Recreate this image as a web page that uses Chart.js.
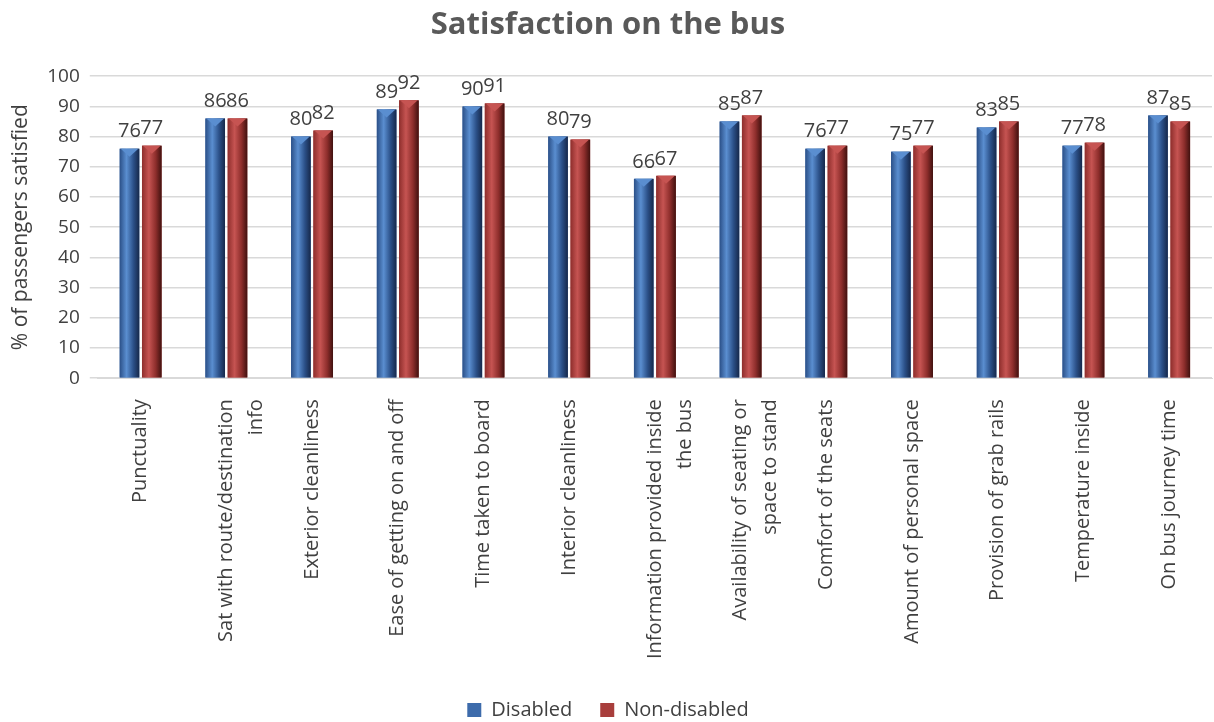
<!DOCTYPE html>
<html>
<head>
<meta charset="utf-8">
<script src="https://cdn.jsdelivr.net/npm/chart.js@4"></script>
<style>
  body { margin: 0; background: #fff; }
  #wrap { width: 1214px; height: 722px; }
</style>
</head>
<body>
<div id="wrap"><canvas id="bus"></canvas></div>
<script>
// categories + values
var categories = [
  "Punctuality",
  ["Sat with route/destination", "info"],
  "Exterior cleanliness",
  "Ease of getting on and off",
  "Time taken to board",
  "Interior cleanliness",
  ["Information provided inside", "the bus"],
  ["Availability of seating or", "space to stand"],
  "Comfort of the seats",
  "Amount of personal space",
  "Provision of grab rails",
  "Temperature inside",
  "On bus journey time"
];
var disabled = [76, 86, 80, 89, 90, 80, 66, 85, 76, 75, 83, 77, 87];
var nonDisabled = [77, 86, 82, 92, 91, 79, 67, 87, 77, 77, 85, 78, 85];
var yTicks = [0, 10, 20, 30, 40, 50, 60, 70, 80, 90, 100];

var shades = [
  ["#2b5088", "#5a8ed0", "#16284a"],
  ["#8e2e2c", "#c65452", "#40110f"]
];

// gradient shading + value labels on top of each bar
var barLook = {
  id: "barLook",
  afterDatasetsDraw: function(chart) {
    var ctx = chart.ctx;
    chart.data.datasets.forEach(function(ds, di) {
      var meta = chart.getDatasetMeta(di);
      var c = shades[di];
      meta.data.forEach(function(bar, i) {
        var l = bar.x - bar.width / 2, r = bar.x + bar.width / 2;
        var g = ctx.createLinearGradient(l, 0, r, 0);
        g.addColorStop(0, c[0]);
        g.addColorStop(0.35, c[1]);
        g.addColorStop(0.7, c[0]);
        g.addColorStop(1, c[2]);
        ctx.save();
        ctx.fillStyle = g;
        ctx.fillRect(l, bar.y, bar.width, bar.base - bar.y);
        // little bevel at the top
        ctx.fillStyle = c[1];
        ctx.beginPath();
        ctx.moveTo(l + 1, bar.y);
        ctx.lineTo(r - 1, bar.y);
        ctx.lineTo(bar.x, bar.y + 8);
        ctx.closePath();
        ctx.fill();
        ctx.fillStyle = "#404040";
        ctx.font = "20px 'Open Sans'";
        ctx.textAlign = "center";
        ctx.textBaseline = "bottom";
        ctx.fillText(ds.data[i], bar.x, bar.y - 7);
        ctx.restore();
      });
    });
  }
};

new Chart("bus", {
  type: "bar",
  data: {
    labels: categories,
    datasets: [{
      label: "Disabled",
      data: disabled,
      backgroundColor: "#3d6bab"
    }, {
      label: "Non-disabled",
      data: nonDisabled,
      backgroundColor: "#a83e3c"
    }]
  },
  options: {
    responsive: true,
    maintainAspectRatio: false,
    animation: false,
    layout: { padding: { left: 4, right: 2, top: 4, bottom: -8 } },
    datasets: {
      bar: { categoryPercentage: 0.52, barPercentage: 0.88 }
    },
    plugins: {
      title: {
        display: true,
        text: "Satisfaction on the bus",
        color: "#595959",
        font: { family: "'Open Sans'", size: 31, weight: "bold" },
        padding: { top: 3, bottom: 32 }
      },
      legend: {
        position: "bottom",
        labels: {
          color: "#404040",
          font: { family: "'Open Sans'", size: 20 },
          boxWidth: 14,
          boxHeight: 14,
          padding: 28
        }
      },
      tooltip: { enabled: false }
    },
    scales: {
      x: {
        grid: { display: false },
        border: { color: "#d9d9d9" },
        ticks: {
          color: "#404040",
          font: { family: "'Open Sans'", size: 20, lineHeight: 1.5 },
          maxRotation: 90,
          minRotation: 90,
          autoSkip: false,
          padding: 13
        }
      },
      y: {
        min: 0,
        max: 100,
        afterBuildTicks: function(axis) {
          axis.ticks = yTicks.map(function(v) { return { value: v }; });
        },
        grid: { color: "#d9d9d9", lineWidth: 1.5 },
        border: { display: false },
        ticks: {
          color: "#404040",
          font: { family: "'Open Sans'", size: 19 },
          padding: 10
        },
        title: {
          display: true,
          text: "% of passengers satisfied",
          color: "#404040",
          font: { family: "'Open Sans'", size: 21 }
        }
      }
    }
  },
  plugins: [barLook]
});
</script>
</body>
</html>
